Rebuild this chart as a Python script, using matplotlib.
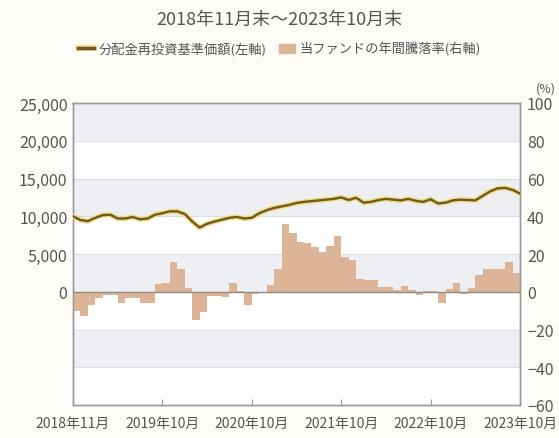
import numpy as np
import matplotlib
matplotlib.use("Agg")
import matplotlib.pyplot as plt
from matplotlib.lines import Line2D
from matplotlib.patches import Patch
import matplotlib.patheffects as pe

plt.rcParams['font.family'] = ['Noto Sans CJK JP', 'DejaVu Sans']

# Data
# month-end NAV with dividends reinvested (left axis), 2018/11 .. 2023/10
nav = [10000, 9500, 9350, 9800, 10150, 10200, 9700, 9700, 9900, 9600,
       9700, 10200, 10400, 10650, 10650, 10300, 9300, 8500, 9000, 9300,
       9550, 9800, 9900, 9700, 9800, 10400, 10800, 11100, 11300, 11500,
       11750, 11900, 12000, 12100, 12200, 12300, 12500, 12150, 12450, 11800,
       11900, 12150, 12300, 12200, 12100, 12300, 12050, 11900, 12250, 11700,
       11800, 12100, 12200, 12150, 12100, 12700, 13300, 13700, 13750, 13500,
       13000]
# annual return of the fund, % (right axis), one bar per month
ret = [-10, -13, -7, -3.5, -1.8, -1.8, -6, -3.5, -3.5, -6,
       -6, 4, 4.4, 15.7, 12, 2, -15, -10.6, -2.5, -2,
       -2.6, 4.4, 0.3, -7, -1, -0.5, 3.4, 12.3, 36, 31,
       26.3, 25.6, 23.7, 21, 24.5, 29.8, 18.4, 16.6, 7, 6,
       6, 2.6, 2.6, 1, 3, 1, -1.8, 0.5, 0.5, -6,
       1.5, 4.4, -1, 2, 8.8, 12.3, 12, 11.8, 15.9, 10]
tick_labels = ['2018年11月', '2019年10月', '2020年10月', '2021年10月', '2022年10月', '2023年10月']
tick_pos = [0, 12, 24, 36, 48, 60]

txt = '#555555'
fig = plt.figure(figsize=(5.59, 4.39), dpi=100, facecolor='#fdfcf7')
ax2 = fig.add_axes([73 / 559, 33 / 439, 447 / 559, 302 / 439])
ax = ax2.twinx()
ax.set_zorder(ax2.get_zorder() + 1)
ax.patch.set_visible(False)
ax2.set_facecolor('white')

# background bands on the right axis
for lo in [80, 40, 0, -40]:
    ax2.axhspan(lo, lo + 20, color='#edeff3', zorder=0, lw=0)
for v in range(-40, 100, 20):
    ax2.axhline(v, color='#dadde2', lw=0.8, zorder=0.5)

ax2.bar(np.arange(len(ret)) + 0.5, ret, width=1.0, color='#dcb497', zorder=2, lw=0)
ax2.axhline(0, color='#9a8a7a', lw=1.0, zorder=3)

xs = np.arange(len(nav)) * 60 / (len(nav) - 1)
ax.plot(xs, nav, color='#6b5a22', lw=1.7, zorder=5,
        path_effects=[pe.Stroke(linewidth=3.8, foreground='#f3dc86'), pe.Normal()])

ax.set_xlim(0, 60)
ax2.set_ylim(-60, 100)
ax.set_ylim(-15000, 25000)

# the twin's left side carries the NAV scale, so swap tick sides
ax.yaxis.tick_left()
ax2.yaxis.tick_right()
ax.set_yticks(range(0, 25001, 5000))
ax.set_yticklabels([f'{v:,}' for v in range(0, 25001, 5000)])
ax2.set_yticks(range(-60, 101, 20))
ax.set_xticks(tick_pos)
ax2.set_xticks(tick_pos)
ax2.set_xticklabels(tick_labels)

for a in (ax, ax2):
    for s in a.spines.values():
        s.set_color('#9a9a9a')
        s.set_linewidth(1.0)
ax.tick_params(axis='y', length=0, labelsize=11.5, labelcolor=txt, pad=4)
ax2.tick_params(axis='y', length=0, labelsize=11.5, labelcolor=txt, pad=5)
ax2.tick_params(axis='x', direction='in', length=4, color='#9a9a9a', labelsize=10, labelcolor=txt, pad=8)
ax.tick_params(axis='x', length=0, labelbottom=False)

fig.text(0.5, 1 - 20 / 439, '2018年11月末～2023年10月末', ha='center', va='center', fontsize=13, color=txt)
fig.text(546 / 559, 1 - 89 / 439, '(%)', ha='center', va='center', fontsize=9, color=txt)

handles = [Line2D([0], [0], color='#6b5a22', lw=2.5,
                  path_effects=[pe.Stroke(linewidth=4, foreground='#f3dc86'), pe.Normal()]),
           Patch(color='#dcb497')]
fig.legend(handles, ['分配金再投資基準価額(左軸)', '当ファンドの年間騰落率(右軸)'],
           loc='center', bbox_to_anchor=(0.5, 1 - 50 / 439), ncol=2, frameon=False,
           fontsize=9.5, labelcolor=txt, handlelength=1.2, handletextpad=0.3, columnspacing=1.0)

fig.savefig('out.png', dpi=100, facecolor=fig.get_facecolor())
